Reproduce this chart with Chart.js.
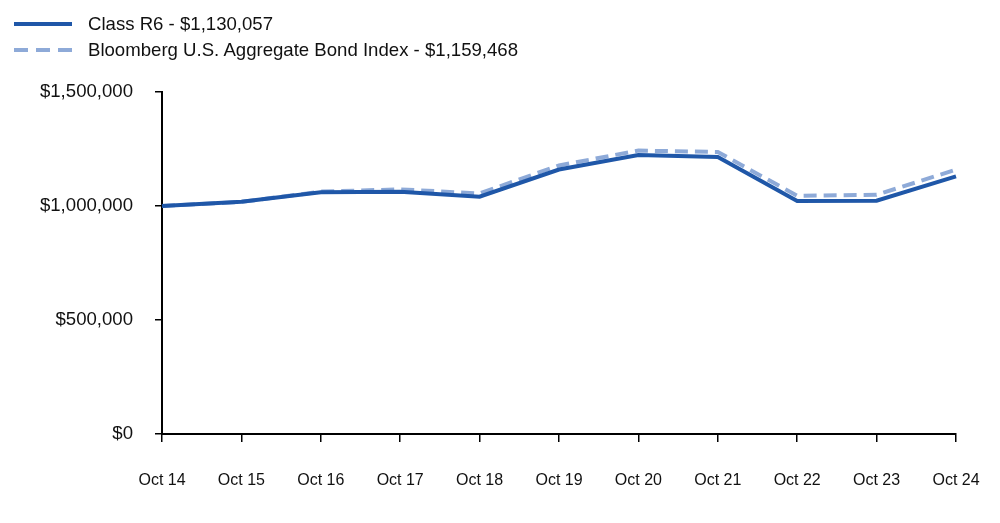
<!DOCTYPE html>
<html>
<head>
<meta charset="utf-8">
<script src="https://cdn.jsdelivr.net/npm/chart.js@4"></script>
<style>
  html, body { margin: 0; padding: 0; background: #fff; }
  #wrap { position: relative; width: 1000px; height: 523px; }
  #legend { position: absolute; left: 14px; top: 11px; font-family: "Liberation Sans", Arial, sans-serif; font-size: 18.6px; color: #111; }
  .item { display: flex; align-items: center; height: 26px; }
  .swatch { width: 58px; height: 0; margin-right: 16px; }
</style>
</head>
<body>
<div id="wrap">
  <canvas id="growthChart" width="1000" height="523"></canvas>
  <div id="legend"></div>
</div>
<script>
const years = ['Oct 14', 'Oct 15', 'Oct 16', 'Oct 17', 'Oct 18', 'Oct 19', 'Oct 20', 'Oct 21', 'Oct 22', 'Oct 23', 'Oct 24'];
const classR6 = [1000000, 1019000, 1060000, 1063000, 1041000, 1160000, 1224000, 1215000, 1022000, 1023000, 1130057];
const bloomberg = [1000000, 1018000, 1063000, 1073000, 1055000, 1178000, 1243000, 1237000, 1045000, 1049000, 1159468];
const seriesNames = ['Class R6 - $1,130,057', 'Bloomberg U.S. Aggregate Bond Index - $1,159,468'];
const yTicks = [0, 500000, 1000000, 1500000];

const darkBlue = '#1f57a8';
const lightBlue = '#8eaad8';

/* Legend built as html, stacked like the original */
const legend = document.getElementById('legend');
[[seriesNames[0], darkBlue, 'solid'], [seriesNames[1], lightBlue, 'dashed']].forEach(function (s) {
  const row = document.createElement('div');
  row.className = 'item';
  const sw = document.createElement('div');
  sw.className = 'swatch';
  if (s[2] === 'solid') {
    sw.style.borderTop = '4px solid ' + s[1];
  } else {
    sw.style.height = '4px';
    sw.style.background = 'repeating-linear-gradient(90deg,' + s[1] + ' 0 14px, transparent 14px 22px)';
  }
  const txt = document.createElement('span');
  txt.textContent = s[0];
  row.appendChild(sw);
  row.appendChild(txt);
  legend.appendChild(row);
});

const ctx = document.getElementById('growthChart').getContext('2d');
new Chart(ctx, {
  type: 'line',
  data: {
    labels: years,
    datasets: [{
      label: seriesNames[0],
      data: classR6,
      borderColor: darkBlue,
      borderWidth: 4,
      pointRadius: 0,
      tension: 0
    }, {
      label: seriesNames[1],
      data: bloomberg,
      borderColor: lightBlue,
      borderWidth: 4,
      borderDash: [13, 7],
      pointRadius: 0,
      tension: 0
    }]
  },
  options: {
    responsive: false,
    animation: false,
    layout: { padding: { top: 92, right: 44, left: 0, bottom: 0 } },
    plugins: { legend: { display: false }, tooltip: { enabled: false } },
    scales: {
      x: {
        offset: false,
        grid: { drawOnChartArea: false, drawTicks: true, tickLength: 8, color: '#000', lineWidth: 1.5 },
        border: { color: '#000', width: 2 },
        ticks: { color: '#111', padding: 29, maxRotation: 0, font: { family: 'Liberation Sans', size: 16 } },
        afterFit: function (scale) {
          scale.height = 89;
          // let the last label hang over the edge instead of shrinking the plot
          scale.paddingLeft = 0;
          scale.paddingRight = 0;
        }
      },
      y: {
        min: 0,
        max: 1500000,
        afterBuildTicks: function (scale) { scale.ticks = yTicks.map(function (v) { return { value: v }; }); },
        grid: { drawOnChartArea: false, drawTicks: true, tickLength: 7, color: '#000', lineWidth: 1.5 },
        border: { color: '#000', width: 2 },
        ticks: {
          color: '#111',
          padding: 22,
          font: { family: 'Liberation Sans', size: 18.6 },
          callback: function (v) { return '$' + Number(v).toLocaleString('en-US'); }
        },
        afterFit: function (scale) { scale.width = 162; }
      }
    }
  }
});
</script>
</body>
</html>
